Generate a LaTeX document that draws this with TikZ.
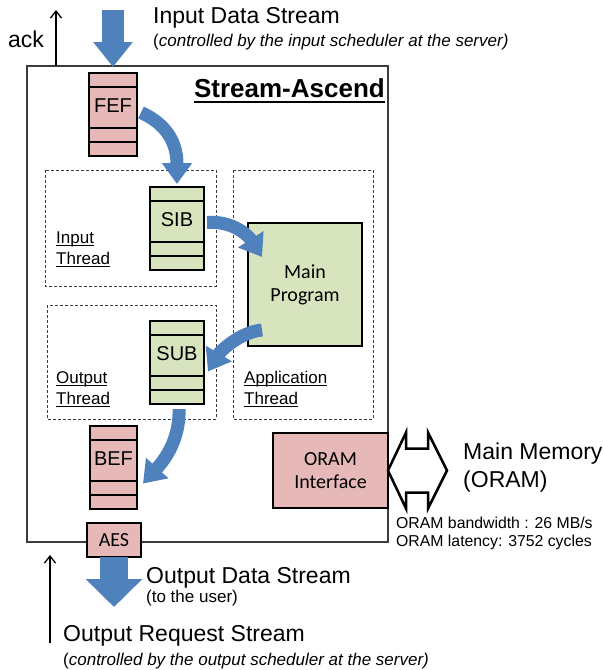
\documentclass[tikz,border=0pt]{standalone}
\usepackage{fontspec}
\setmainfont{Liberation Sans}
\newfontfamily\calfont{Carlito}
\usetikzlibrary{calc}
\usetikzlibrary{arrows.meta}
\definecolor{pinkfill}{RGB}{230,185,184}
\definecolor{greenfill}{RGB}{215,228,189}
\definecolor{flowblue}{RGB}{79,129,189}
\definecolor{boxgrey}{RGB}{60,60,60}
\newcommand*{\fbig  }{\fontsize{23}{27}\selectfont}
\newcommand*{\fnote }{\fontsize{17}{20}\selectfont}
\newcommand*{\flbl  }{\fontsize{17}{21}\selectfont}
\newcommand*{\ftitle}{\fontsize{26}{30}\selectfont\bfseries}
\newcommand*{\fbuf  }{\fontsize{20}{24}\selectfont}
\newcommand*{\fcal  }{\calfont\fontsize{20}{23}\selectfont}
\newcommand*{\fsmall}{\fontsize{15.8}{18}\selectfont}
\newcommand*{\slotA }{14}
\newcommand*{\slotB }{55}
\newcommand*{\slotC }{69}
% underline with own depth and thickness
\newcommand*{\ulx}[3]{\setbox0\hbox{#3}\rlap{\rule[-#1]{\wd0}{#2}}\box0}
% separator lines of a buffer node
\newcommand*{\slots}[1]{%
    \foreach \s in {\slotA,\slotB,\slotC}
        \draw[bufline] ($(#1.north west)+(0,\s)$) -- ($(#1.north east)+(0,\s)$);}
\tikzset{
    buf/.style={draw, line width=2.5pt, outer sep=0pt, inner sep=0pt, minimum height=83pt},
    bufline/.style={line width=2.5pt},
    blk/.style={draw, line width=2.5pt, outer sep=0pt, align=center, font=\fcal},
    thread/.style={draw=boxgrey, dash pattern=on 3pt off 2pt, line width=0.9pt},
    flow/.style={color=flowblue, line width=13pt, -{Triangle[width=29pt,length=21pt]}},
    bigin/.style={color=flowblue, line width=22pt, -{Triangle[width=38pt,length=25pt]}},
    bigout/.style={color=flowblue, line width=28pt, -{Triangle[width=55pt,length=28pt]}},
    thinarrow/.style={line width=1.3pt, -{Straight Barb[length=7pt,width=11pt]}},
    txt/.style={anchor=base west, inner sep=0pt},
}

\begin{document}
\begin{tikzpicture}[x=1pt,y=-1pt,font=\fbig]
    \useasboundingbox (0,0) rectangle (604,670);
    % threads
    \draw[thread] (45,170) rectangle (216,286);
    \draw[thread] (47,305) rectangle (216,419);
    \draw[thread] (233,170) rectangle (373,419);
    \node[draw=boxgrey, line width=1.2pt, outer sep=0pt, minimum width=361pt, minimum height=476pt] (frame) at (207.5,304) {};
    \node[txt, anchor=base east] (title) at (385,97) {\ftitle\ulx{6pt}{2pt}{Stream-Ascend}};
    % buffers
    \node[buf, fill=pinkfill,  minimum width=48pt] (FEF) at (113,114.5) {};
    \node[buf, fill=greenfill, minimum width=54pt] (SIB) at (177,228.5) {};
    \node[buf, fill=greenfill, minimum width=54pt] (SUB) at (177,362.5) {};
    \node[buf, fill=pinkfill,  minimum width=47pt] (BEF) at (113.5,467.5) {};
    \foreach \b in {FEF,SIB,SUB,BEF} {
        \slots{\b}
        \node[font=\fbuf] (lbl\b) at ($(\b.north)+(0,33)$) {\b};
    }
    % blocks
    \node[blk, fill=greenfill, minimum width=114pt, minimum height=123pt] (main) at (305,284.5) {Main\\Program};
    \node[blk, fill=pinkfill, minimum width=115pt, minimum height=75pt] (ORAM) at (330.5,470.5) {ORAM\\Interface};
    \node[blk, fill=pinkfill, minimum width=54pt, minimum height=34pt, inner sep=0pt] (AES) at (114,540) {AES};
    \draw[line width=2.5pt, line join=miter, fill=white] (ORAM.east) -- ++(18,-38) -- ++(0,16) -- ++(22,0) -- ++(0,-16) -- ++(19,38)
        -- ++(-19,38) -- ++(0,-16) -- ++(-22,0) -- ++(0,16) -- cycle;
    % thread labels
    \node[txt, font=\flbl] (inA)  at (56,243)  {\ulx{3pt}{1.5pt}{Input}};
    \node[txt, font=\flbl] (inB)  at (56,264)  {\ulx{3pt}{1.5pt}{Thread}};
    \node[txt, font=\flbl] (outA) at (56,383)  {\ulx{3pt}{1.5pt}{Output}};
    \node[txt, font=\flbl] (outB) at (56,404)  {\ulx{3pt}{1.5pt}{Thread}};
    \node[txt, font=\flbl] (appA) at (244,383) {\ulx{3pt}{1.5pt}{Application}};
    \node[txt, font=\flbl] (appB) at (244,404) {\ulx{3pt}{1.5pt}{Thread}};
    % flows inside
    \draw[flow] ($(FEF.east)+(4,-2)$) .. controls +(22,10) and +(0,-45) .. ($(SIB.north)+(0,-3)$);
    \draw[flow] ($(SIB.east)+(3,-6)$) .. controls +(25,-2) and +(-14,-22) .. ($(main.north west)+(14,34)$);
    \draw[flow] ($(main.south west)+(14,-16)$) .. controls +(-22,2) and +(12,-20) .. ($(SUB.east)+(4,9)$);
    \draw[flow] ($(SUB.south)+(2,5)$) .. controls +(1,30) and +(22,-24) .. ($(BEF.east)+(6,16)$);
    % streams
    \coordinate (inTail) at (113,10);
    \draw[bigin, shorten >=6pt] (inTail) -- (FEF.north);
    \coordinate (outTip) at (114,607);
    \draw[bigout] (AES.south) -- (outTip);
    \coordinate (ackTip) at (56,10);
    \draw[thinarrow] ($(frame.north west)+(29,0)$) -- (ackTip);
    \coordinate (reqFoot) at (50,643);
    \coordinate (reqTip) at (50,555);
    \draw[thinarrow] (reqFoot) -- (reqTip);
    % texts
    \node[txt] (ack) at (8,47) {ack};
    \node[txt] (inName) at (153,23) {Input Data Stream};
    \node[txt, font=\fnote] (inNote) at (153,46) {(\textit{controlled by the input scheduler at the server)}};
    \node[txt] (outName) at (146,583) {Output Data Stream};
    \node[txt, font=\fnote] (outNote) at (146,602) {(to the user)};
    \node[txt] (reqName) at (63,641) {Output Request Stream};
    \node[txt, font=\fnote] (reqNote) at (63,665) {(\textit{controlled by the output scheduler at the server)}};
    \node[txt] (memA) at (463,459) {Main Memory};
    \node[txt] (memB) at (463,487) {(ORAM)};
    \node[txt, font=\fsmall] (bw)  at (396,528) {ORAM bandwidth : 26 MB/s};
    \node[txt, font=\fsmall] (lat) at (396,546) {ORAM latency: 3752 cycles};
\end{tikzpicture}
\end{document}
